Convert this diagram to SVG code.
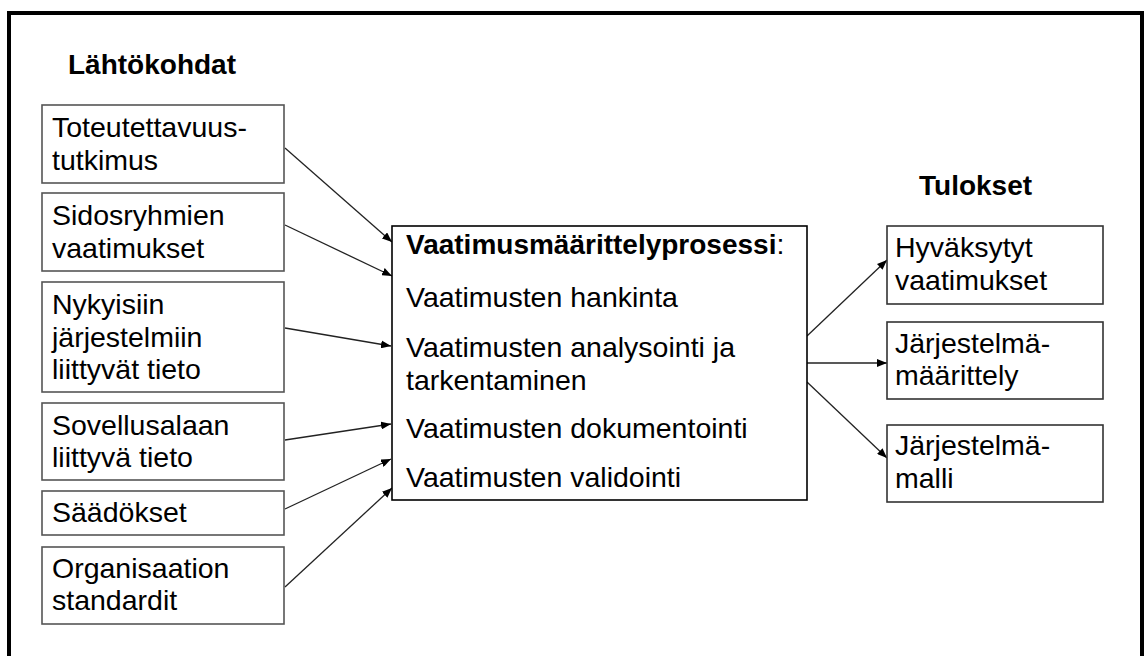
<svg xmlns="http://www.w3.org/2000/svg" width="1146" height="656" viewBox="0 0 1146 656">
<style>
text{font-family:"Liberation Sans",Arial,sans-serif;font-size:28.5px;fill:#000}
.b{font-weight:bold;font-size:28px}
.src{fill:#fff;stroke:#555;stroke-width:1.6}
.out{fill:#fff;stroke:#333;stroke-width:1.6}
.main{fill:#fff;stroke:#000;stroke-width:1.6}
.c{stroke:#222;stroke-width:1.3;fill:none;marker-end:url(#ah)}
</style>
<defs>
<marker id="ah" viewBox="0 0 10 8" refX="10" refY="4" markerWidth="10" markerHeight="8" markerUnits="userSpaceOnUse" orient="auto">
<path d="M0,0 L10,4 L0,8 z" fill="#000"/>
</marker>
</defs>
<rect x="0" y="0" width="1146" height="656" fill="#fff"/>
<rect x="9" y="13" width="1133" height="700" fill="none" stroke="#000" stroke-width="4"/>
<text class="b" x="68" y="74">Lähtökohdat</text>
<text class="b" x="919" y="195">Tulokset</text>
<g id="connectors">
<line class="c" x1="285" y1="148" x2="392" y2="242"/>
<line class="c" x1="285" y1="225" x2="392" y2="276"/>
<line class="c" x1="285" y1="328" x2="391" y2="346"/>
<line class="c" x1="285" y1="440" x2="391" y2="424"/>
<line class="c" x1="285" y1="509" x2="391" y2="459"/>
<line class="c" x1="285" y1="587" x2="392" y2="488"/>
<line class="c" x1="807" y1="336" x2="887" y2="260"/>
<line class="c" x1="807" y1="363" x2="887" y2="363"/>
<line class="c" x1="807" y1="382" x2="887" y2="458"/>
</g>
<g id="n1"><rect class="src" x="42" y="105" width="242" height="78"/><text x="52" y="137">Toteutettavuus-</text><text x="52" y="170">tutkimus</text></g>
<g id="n2"><rect class="src" x="42" y="193" width="242" height="78"/><text x="52" y="225">Sidosryhmien</text><text x="52" y="258">vaatimukset</text></g>
<g id="n3"><rect class="src" x="42" y="282" width="242" height="110"/><text x="52" y="314">Nykyisiin</text><text x="52" y="347">järjestelmiin</text><text x="52" y="379">liittyvät tieto</text></g>
<g id="n4"><rect class="src" x="42" y="403" width="242" height="77"/><text x="52" y="435">Sovellusalaan</text><text x="52" y="467">liittyvä tieto</text></g>
<g id="n5"><rect class="src" x="42" y="491" width="242" height="44"/><text x="52" y="522">Säädökset</text></g>
<g id="n6"><rect class="src" x="42" y="547" width="242" height="77"/><text x="52" y="578">Organisaation</text><text x="52" y="610">standardit</text></g>
<g id="main"><rect class="main" x="392" y="226" width="415" height="274"/>
<text x="406" y="254"><tspan class="b">Vaatimusmäärittelyprosessi</tspan>:</text>
<text x="406" y="307">Vaatimusten hankinta</text>
<text x="406" y="357">Vaatimusten analysointi ja</text>
<text x="406" y="390">tarkentaminen</text>
<text x="406" y="438">Vaatimusten dokumentointi</text>
<text x="406" y="487">Vaatimusten validointi</text>
</g>
<g id="r1"><rect class="out" x="887" y="226" width="216" height="78"/><text x="895" y="257">Hyväksytyt</text><text x="895" y="290">vaatimukset</text></g>
<g id="r2"><rect class="out" x="887" y="322" width="216" height="77"/><text x="895" y="353">Järjestelmä-</text><text x="895" y="385">määrittely</text></g>
<g id="r3"><rect class="out" x="887" y="425" width="216" height="77"/><text x="895" y="455">Järjestelmä-</text><text x="895" y="488">malli</text></g>
</svg>
